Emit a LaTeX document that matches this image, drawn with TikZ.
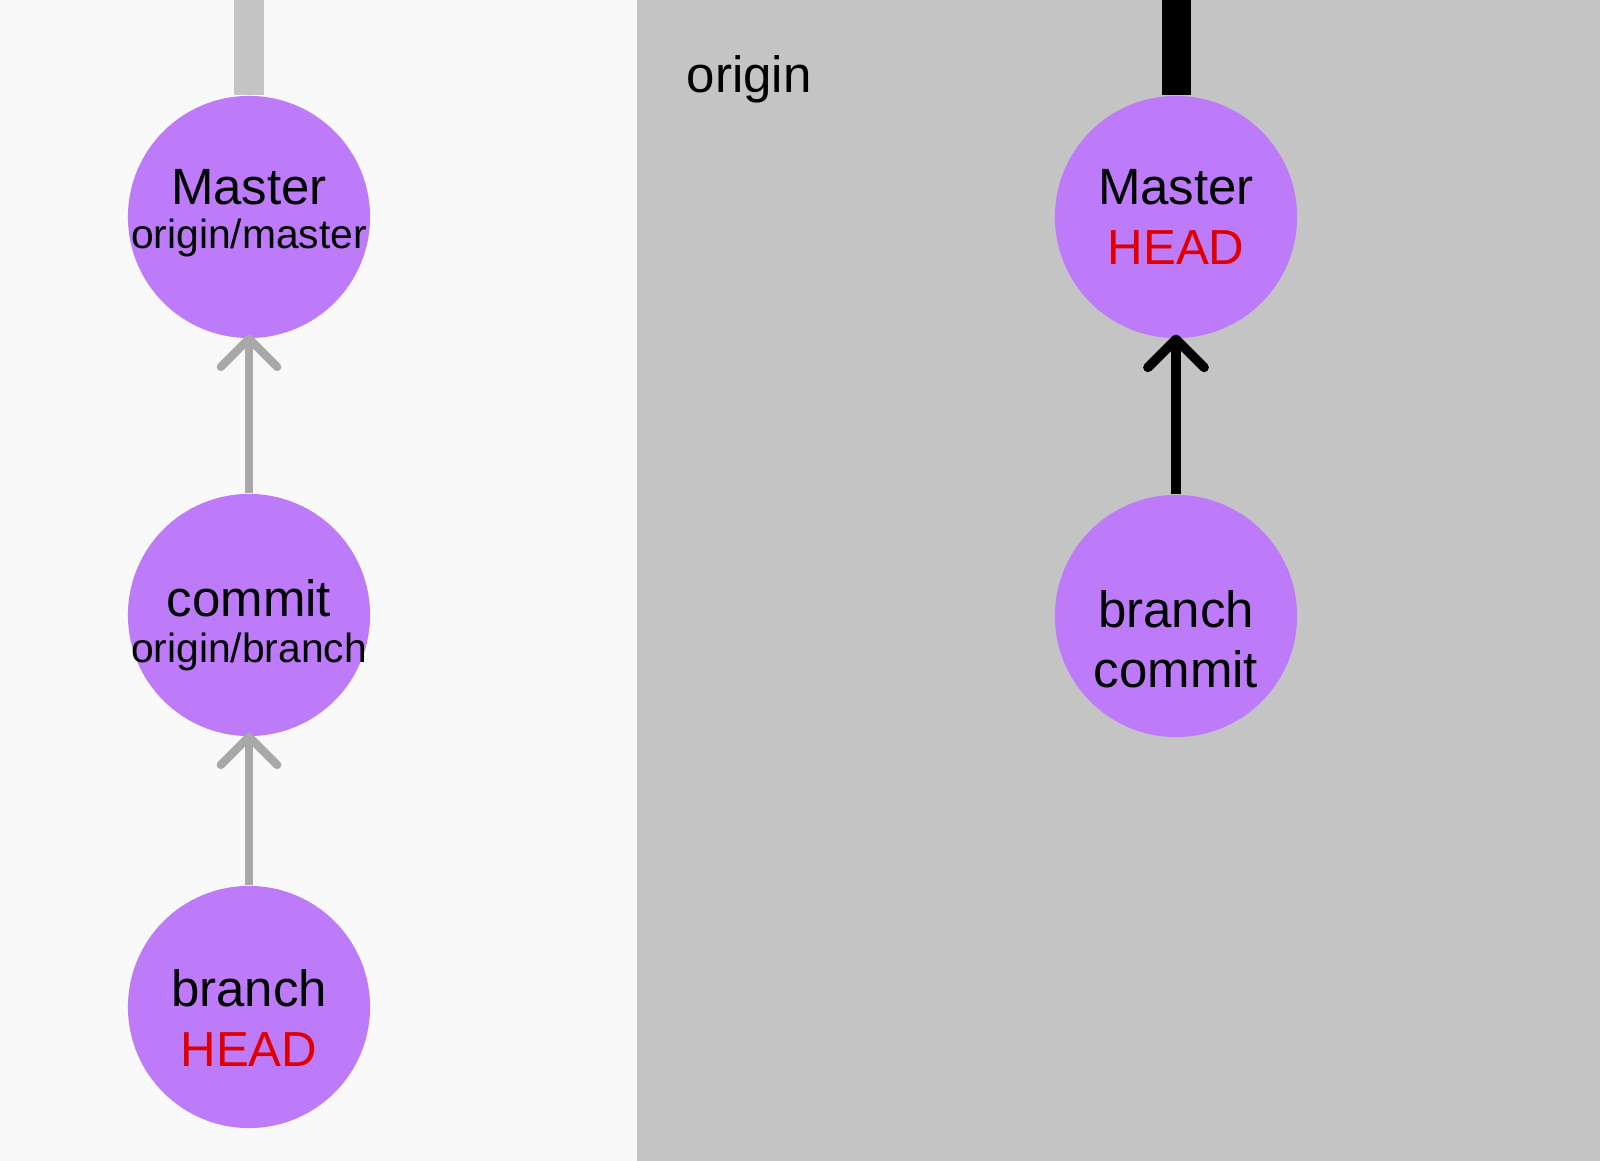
\documentclass[tikz,border=0pt]{standalone}
\usepackage{fontspec}
\setmainfont{Liberation Sans}
\usetikzlibrary{arrows.meta}
\definecolor{commitpurple}{HTML}{BD7AF9}
\definecolor{localbg}{HTML}{F9F9F9}
\definecolor{remotebg}{HTML}{C4C4C4}
\definecolor{linkgray}{HTML}{A8A8A8}
\definecolor{headred}{HTML}{E00000}
\tikzset{
    commit-node/.style = {circle, fill=commitpurple, minimum size=2.42cm, inner sep=0pt},
    name-text/.style = {anchor=base, inner sep=0pt, font=\fontsize{14.5}{17}\selectfont},
    ref-text/.style = {anchor=base, inner sep=0pt, font=\fontsize{11.6}{13}\selectfont},
    head-text/.style = {anchor=base, inner sep=0pt, font=\fontsize{14}{17}\selectfont, text=headred},
    parent-link/.style = {line width=2.4pt, shorten >=-1.2pt, -{Straight Barb[length=8pt, width=16pt, round]}},
    history-bar/.style = {line width=0.29cm},
}

\begin{document}
\begin{tikzpicture}[x=0.01cm, y=0.01cm]
\useasboundingbox (0,0) rectangle (1600,1161);
% local and remote panels
\fill[localbg] (0,0) rectangle (637,1161);
\fill[remotebg] (637,0) rectangle (1600,1161);
\node[anchor=base west, inner sep=0pt, font=\fontsize{14.5}{17}\selectfont] (origin-label) at (686,1068) {origin};

% local repository
\node[commit-node] (l-master) at (249,944) {};
\node[commit-node] (l-commit) at (249,546) {};
\node[commit-node] (l-branch) at (249,154) {};
\coordinate (l-top) at (249,1161);
\draw[history-bar, remotebg] (l-top) -- (l-master.north);
\draw[parent-link, linkgray] (l-commit.north) -- (l-master.south);
\draw[parent-link, linkgray] (l-branch.north) -- (l-commit.south);

\node[name-text] (l-master-name) at (249,956) {Master};
\node[ref-text] (l-master-ref) at (249,912) {origin/master};
\node[name-text] (l-commit-name) at (249,544) {commit};
\node[ref-text] (l-commit-ref) at (249,498) {origin/branch};
\node[name-text] (l-branch-name) at (249,154) {branch};
\node[head-text] (l-branch-head) at (249,94) {HEAD};

% remote repository
\node[commit-node] (r-master) at (1176,944) {};
\node[commit-node] (r-branch) at (1176,545) {};
\coordinate (r-top) at (1176,1161);
\draw[history-bar, black] (r-top) -- (r-master.north);
\draw[parent-link, black, line width=2.7pt] (r-branch.north) -- (r-master.south);

\node[name-text] (r-master-name) at (1176,956) {Master};
\node[head-text] (r-master-head) at (1176,896) {HEAD};
\node[name-text] (r-branch-name) at (1176,533) {branch};
\node[name-text] (r-branch-commit) at (1176,473) {commit};
\end{tikzpicture}
\end{document}
